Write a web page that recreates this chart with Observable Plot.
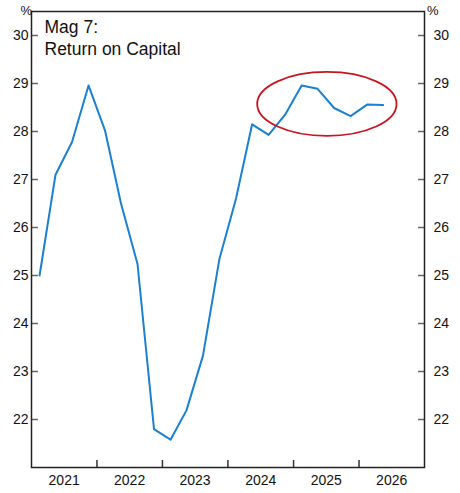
<!DOCTYPE html>
<html>
<head>
<meta charset="utf-8">
<script src="https://cdn.jsdelivr.net/npm/d3@7"></script>
<script src="https://cdn.jsdelivr.net/npm/@observablehq/plot@0.6"></script>
<style>
  html, body { margin: 0; padding: 0; background: #fff; }
  #chart svg { display: block; }
</style>
</head>
<body>
<div id="chart"></div>
<script>
// Quarterly data (mid-quarter dates)
const quarters = [
  "2021-02-15","2021-05-15","2021-08-15","2021-11-15",
  "2022-02-15","2022-05-15","2022-08-15","2022-11-15",
  "2023-02-15","2023-05-15","2023-08-15","2023-11-15",
  "2024-02-15","2024-05-15","2024-08-15","2024-11-15",
  "2025-02-15","2025-05-15","2025-08-15","2025-11-15",
  "2026-02-15","2026-05-15"
];
const returnOnCapital = [
  25.0, 27.1, 27.78, 28.96,
  28.02, 26.5, 25.24, 21.8,
  21.58, 22.19, 23.33, 25.35,
  26.6, 28.15, 27.93, 28.35,
  28.96, 28.89, 28.49, 28.32,
  28.56, 28.55
];
const yTicks = [22, 23, 24, 25, 26, 27, 28, 29, 30];
const yearBoundaries = ["2022-01-01","2023-01-01","2024-01-01","2025-01-01","2026-01-01"];
const yearLabels = ["2021","2022","2023","2024","2025","2026"];
const title = "Mag 7:\nReturn on Capital";
// Highlight ellipse (data coordinates)
const ellipseX = ["2024-06-15", "2026-08-01"];
const ellipseY = [27.9, 29.23];

const data = quarters.map((q, i) => ({date: new Date(q), value: returnOnCapital[i]}));
const yearMid = yearLabels.map(y => new Date(`${y}-07-02`));

const ellipseMark = (index, scales) => {
  const x0 = scales.x(new Date(ellipseX[0])), x1 = scales.x(new Date(ellipseX[1]));
  const y0 = scales.y(ellipseY[1]), y1 = scales.y(ellipseY[0]);
  const el = document.createElementNS("http://www.w3.org/2000/svg", "ellipse");
  el.setAttribute("cx", (x0 + x1) / 2);
  el.setAttribute("cy", (y0 + y1) / 2);
  el.setAttribute("rx", Math.abs(x1 - x0) / 2);
  el.setAttribute("ry", Math.abs(y1 - y0) / 2);
  el.setAttribute("fill", "none");
  el.setAttribute("stroke", "#c8141e");
  el.setAttribute("stroke-width", 1.8);
  const g = document.createElementNS("http://www.w3.org/2000/svg", "g");
  g.appendChild(el);
  return g;
};

const font = "'Liberation Sans', Arial, sans-serif";

const chart = Plot.plot({
  width: 460,
  height: 493,
  marginLeft: 31,
  marginRight: 36,
  marginTop: 11,
  marginBottom: 26,
  style: {fontFamily: font, fontSize: "14px", color: "#111", background: "#fff", overflow: "visible"},
  x: {type: "utc", domain: [new Date("2021-01-01"), new Date("2027-01-01")]},
  y: {domain: [21, 30.5]},
  marks: [
    Plot.axisY({anchor: "left", ticks: yTicks, tickSize: -7, tickPadding: 10, stroke: "#666", strokeWidth: 1.5, label: null, fontSize: 14, fill: "#111"}),
    Plot.axisY({anchor: "right", ticks: yTicks, tickSize: -7, tickPadding: 16, stroke: "#666", strokeWidth: 1.5, label: null, fontSize: 14, fill: "#111"}),
    Plot.axisX({ticks: yearBoundaries.map(d => new Date(d)), tickSize: -7, tickFormat: () => "", stroke: "#333", strokeWidth: 1.5, label: null}),
    Plot.axisX({ticks: yearMid, tickSize: 0, tickPadding: 8, tickFormat: (d, i) => yearLabels[i], label: null, fontSize: 14, fill: "#111"}),
    Plot.frame({stroke: "#222", strokeWidth: 1.5}),
    Plot.line(data, {x: "date", y: "value", stroke: "#1a80d2", strokeWidth: 2}),
    ellipseMark,
    Plot.text([title], {frameAnchor: "top-left", dx: 13, dy: 6, lineAnchor: "top", fontSize: 17.5, lineHeight: 1.25, fill: "#111", text: d => d}),
    Plot.text(["%"], {frameAnchor: "top-left", dx: -11, dy: -1, lineAnchor: "middle", fontSize: 13, fill: "#111", text: d => d}),
    Plot.text(["%"], {frameAnchor: "top-right", dx: 14, dy: -1, lineAnchor: "middle", fontSize: 13, fill: "#111", text: d => d})
  ]
});
document.getElementById("chart").appendChild(chart);
</script>
</body>
</html>
